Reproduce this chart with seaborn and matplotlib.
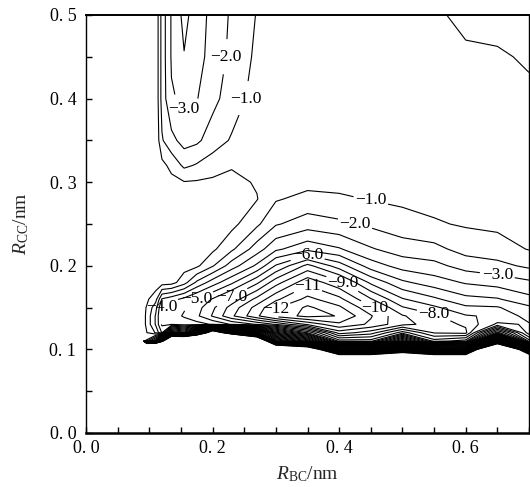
import numpy as np
import matplotlib
matplotlib.use("Agg")
import matplotlib.pyplot as plt
import seaborn as sns
from matplotlib.ticker import MultipleLocator, FixedLocator, FixedFormatter

nan = float("nan")

# grid of the surface
R_BC = [0.0, 0.09, 0.11, 0.12, 0.135, 0.155, 0.175, 0.2, 0.23, 0.27,
        0.3, 0.35, 0.4, 0.45, 0.5, 0.55, 0.6, 0.65, 0.7]
R_CC = [0.0, 0.09, 0.1, 0.11, 0.12, 0.13, 0.14, 0.15, 0.16, 0.18,
        0.2, 0.22, 0.25, 0.28, 0.3, 0.32, 0.35, 0.4, 0.45, 0.5]

# energy columns (one per R_BC value, bottom to top)
e_000 = [nan, nan, nan, nan, nan, nan, nan, nan, nan, nan, nan, nan, nan, nan, nan, nan, nan, nan, nan, nan]
e_009 = [nan, nan, nan, 0.5, 0.5, 0.5, 0.5, 0.5, 0.5, 0.5, 0.5, 0.5, 0.5, 0.5, 0.5, 0.5, 0.5, 0.5, 0.5, 0.5]
e_011 = [99, 99, 99, 5.5, -1.1, -2.1, -2.1, -1.6, -0.6, 0.6, 0.6, 0.6, 0.6, 0.6, 0.6, 0.6, 0.9, 0.9, 0.9, 0.9]
e_012 = [99, 99, 99, 25.5, -3.1, -4.2, -4.3, -4.1, -3.1, 0.5, 0.5, 0.5, 0.5, 0.5, 0.5, 0.3, -0.9, -1.4, -1.4, -1.4]
e_0135 = [99, 99, 99, 60.5, 5.5, -4.1, -4.6, -4.5, -3.6, 0.4, 0.5, 0.5, 0.5, 0.5, 0.3, -0.3, -1.7, -2.9, -3.1, -3.1]
e_0155 = [99, 99, 99, 60.5, 3.5, -4.5, -5.1, -4.9, -4.3, -0.6, 0.4, 0.5, 0.5, 0.5, 0.05, -1.2, -2.4, -3.2, -3.95, -4.3]
e_0175 = [99, 99, 99, 80.5, 10.5, -4.6, -5.8, -5.6, -5.1, -2.2, 0.2, 0.5, 0.5, 0.5, 0.1, -0.9, -2.2, -3.05, -3.4, -3.5]
e_020 = [99, 99, 99, 99, 40.5, -5.1, -7.1, -6.8, -6.1, -3.5, -0.9, 0.2, 0.5, 0.5, 0.2, -0.5, -1.5, -2.3, -2.6, -2.7]
e_023 = [99, 99, 99, 80.5, 20.5, -6.1, -8.8, -8.4, -7.4, -4.8, -2.5, -0.8, 0.3, 0.5, 0.3, -0.1, -0.9, -1.5, -1.75, -1.85]
e_027 = [99, 99, 99, 50.5, 8.5, -7.1, -10.8, -10.4, -9.3, -6.8, -4.2, -2.5, -0.8, 0.05, -0.1, -0.4, -0.5, -0.6, -0.8, -0.95]
e_030 = [99, 99, 50.5, 10.5, 0.5, -8.1, -12.4, -11.9, -10.8, -8.6, -6.1, -3.8, -1.9, -0.9, -0.6, -0.5, -0.5, -0.5, -0.6, -0.7]
e_035 = [99, 99, 40.5, 5.5, -4.1, -10.2, -13.3, -13.2, -12.3, -10.7, -8.3, -4.7, -2.5, -1.3, -0.7, -0.5, -0.5, -0.5, -0.5, -0.5]
e_040 = [99, 40.5, 12.5, -5.5, -9.5, -11.8, -12.95, -12.2, -11.3, -9.3, -6.5, -4.1, -2.2, -1.15, -0.7, -0.5, -0.5, -0.5, -0.5, -0.5]
e_045 = [99, 40.5, 12.5, -5.5, -8.5, -10.8, -11.1, -10.3, -9.1, -6.8, -4.5, -3.1, -1.8, -0.95, -0.7, -0.5, -0.5, -0.5, -0.5, -0.5]
e_050 = [99, 45.5, 20.5, 2.5, -5.5, -9.3, -9.1, -8.1, -7.1, -5.2, -3.6, -2.5, -1.4, -0.8, -0.6, -0.5, -0.5, -0.5, -0.5, -0.5]
e_055 = [99, 40.5, 12.5, -5.5, -8.1, -8.6, -8.2, -7.2, -6.2, -4.5, -3.3, -2.3, -1.1, -0.7, -0.5, -0.5, -0.5, -0.5, -0.5, -0.5]
e_060 = [99, 40.5, 12.5, -4.5, -8.3, -7.8, -7.1, -6.2, -5.3, -3.9, -2.6, -1.6, -0.9, -0.6, -0.5, -0.5, -0.5, -0.5, -0.5, 0.75]
e_065 = [99, 99, 60.5, 15.5, 0.5, -5.8, -6.8, -6.1, -5.1, -3.6, -2.3, -1.4, -0.8, -0.5, -0.5, -0.5, -0.5, -0.5, -0.3, 0.9]
e_070 = [99, 40.5, 15.5, -3.5, -6.6, -6.1, -5.6, -5.2, -4.3, -3.2, -1.8, -0.95, -0.6, -0.5, -0.5, -0.5, -0.5, -0.5, 0.3, 0.9]

energy_columns = [e_000, e_009, e_011, e_012, e_0135, e_0155, e_0175, e_020, e_023,
                  e_027, e_030, e_035, e_040, e_045, e_050, e_055, e_060, e_065, e_070]

contour_levels = list(range(-13, 31))

# labelled levels and where their labels sit
label_levels = [-1, -2, -3, -6, -11, -9, -10, -8, -12, -7, -5, -4, -3, -2, -1]
label_x = [0.463, 0.416, 0.672, 0.345, 0.34, 0.408, 0.466, 0.53, 0.29, 0.234, 0.174, 0.113, 0.164, 0.224, 0.2425]
label_y = [0.276, 0.257, 0.181, 0.213, 0.18, 0.18, 0.153, 0.138, 0.157, 0.162, 0.169, 0.162, 0.384, 0.462, 0.398]

x_ticks = [0.0, 0.2, 0.4, 0.6]
x_tick_labels = ["0. 0", "0. 2", "0. 4", "0. 6"]
y_ticks = [0.0, 0.1, 0.2, 0.3, 0.4, 0.5]
y_tick_labels = ["0. 0", "0. 1", "0. 2", "0. 3", "0. 4", "0. 5"]

sns.set_theme(style="white")
plt.rcParams["font.family"] = ["Liberation Serif", "DejaVu Serif"]
plt.rcParams["mathtext.fontset"] = "custom"
plt.rcParams["mathtext.rm"] = "Liberation Serif"
plt.rcParams["mathtext.it"] = "Liberation Serif:italic"
plt.rcParams["contour.negative_linestyle"] = "solid"

fig = plt.figure(figsize=(5.30, 4.87), dpi=100)
ax = fig.add_axes([0.1623, 0.1109, 0.8358, 0.8583])
ax.set_xlim(0, 0.7)
ax.set_ylim(0, 0.5)

Z = np.column_stack([np.array(c, dtype=float) for c in energy_columns])
cs = ax.contour(np.array(R_BC), np.array(R_CC), Z, levels=contour_levels,
                colors="black", linewidths=0.8, linestyles="solid")
ax.set_xlim(0, 0.7)
ax.set_ylim(0, 0.5)


def fmt(v):
    if abs(v) >= 10:
        return "\u2212%d" % abs(v)
    return "\u2212%.1f" % abs(v)


for lv, lx, ly in zip(label_levels, label_x, label_y):
    idx = list(cs.levels).index(lv)
    verts = cs.get_paths()[idx].vertices
    if len(verts) == 0:
        continue
    disp = ax.transData.transform(verts)
    tgt = ax.transData.transform((lx, ly))
    k = int(np.argmin(((disp - tgt) ** 2).sum(axis=1)))
    ax.clabel(cs, manual=[tuple(verts[k])], fmt=fmt, fontsize=12.5,
              inline=True, inline_spacing=2)
for t in ax.texts:
    t.set_rotation(0)

ax.xaxis.set_major_locator(FixedLocator(x_ticks))
ax.xaxis.set_major_formatter(FixedFormatter(x_tick_labels))
ax.yaxis.set_major_locator(FixedLocator(y_ticks))
ax.yaxis.set_major_formatter(FixedFormatter(y_tick_labels))
ax.xaxis.set_minor_locator(MultipleLocator(0.05))
ax.yaxis.set_minor_locator(MultipleLocator(0.05))
ax.tick_params(which="both", direction="in", length=4, width=1, colors="black",
               bottom=True, left=True, top=False, right=False, labelsize=13)
ax.tick_params(axis="x", pad=5)
ax.tick_params(axis="y", pad=7)

for side, w in [("bottom", 1.8), ("top", 1.4), ("left", 1.0), ("right", 1.0)]:
    ax.spines[side].set_visible(True)
    ax.spines[side].set_color("black")
    ax.spines[side].set_linewidth(w)

ax.set_xlabel(r"$R_{\mathrm{BC}}$/nm", fontsize=14, labelpad=5)
ax.set_ylabel(r"$R_{\mathrm{CC}}$/nm", fontsize=14, labelpad=13)
ax.set_facecolor("white")
fig.patch.set_facecolor("white")

fig.savefig("out.png", dpi=100)
